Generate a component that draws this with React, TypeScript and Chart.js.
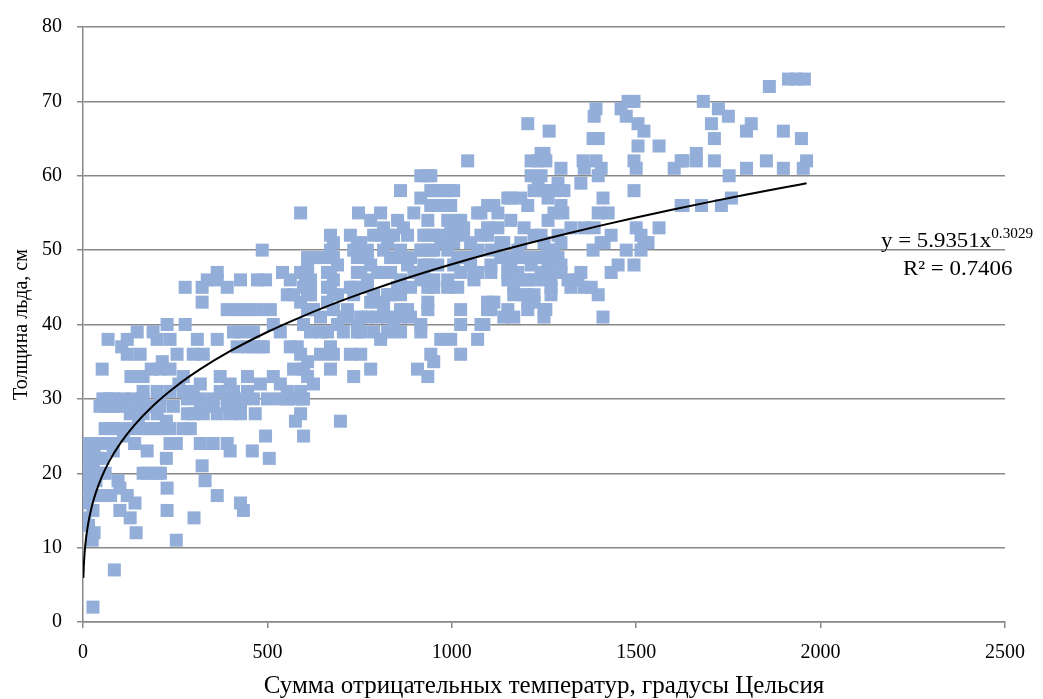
import { useEffect, useRef } from "react";
import { Chart, registerables } from "chart.js";

Chart.register(...registerables);

// Trend line (power fit) coefficients shown in the chart label
const trendA = 5.9351;
const trendB = 0.3029;
const trendR2 = 0.7406;
const trendXs = [1, 2, 3, 5, 8, 12, 18, 25, 35, 50, 70, 100, 140, 190, 250, 320, 400, 500, 600, 700, 800, 900, 1000, 1100, 1200, 1300, 1400, 1500, 1600, 1700, 1800, 1900, 1962];

const xTicks = [0, 500, 1000, 1500, 2000, 2500];
const yTicks = [0, 10, 20, 30, 40, 50, 60, 70, 80];

const xTitle = "Сумма отрицательных температур, градусы Цельсия";
const yTitle = "Толщина льда, см";

// Observations: [sum of negative temperatures, ice thickness]
const obsLeft: number[][] = [
  [5,23],[10,24],[24,24],[38,24],[14,22],[19,21],[6,20],[3,19],[18,18],[30,23],[35,22],[5,14],[8,16],[27,15],[30,12],[25,11],[27,2],[46,17],[6,18],[20,17],[10,22],[35,19],[15,13],[45,20],[12,20],[3,23],[28,21],[40,22],
  [54,22],[60,20],[82,23],[85,7],[79,26],[65,29],[70,30],[90,29],[95,19],[100,18],[75,17],[52,34],[68,38],[95,26],[54,30],[82,30],[46,29],[82,29],[54,24],[79,24],[60,26],
  [120,17],[141,16],[100,15],[128,14],[144,12],[128,26],[155,26],[174,26],[174,23],[175,20],[201,20],[210,20],[163,20],[109,30],[136,30],[163,30],[120,29],[155,29],[128,28],[163,28],[201,28],[163,31],[201,31],[120,38],[147,39],[120,36],[155,36],[163,33],[110,25],[140,24],[185,34],[190,39],[130,33],[105,37],[180,29],[195,26],[150,27],[226,22],[209,26],[236,26],[236,24],[253,24],
  [209,30],[209,29],[245,29],[236,31],[272,31],[299,31],[201,38],[236,38],[228,40],[277,40],[255,36],[299,36],[209,34],[236,34],[272,33],[228,18],[228,15],[253,11],[283,30],[283,28],[299,28],[272,26],[291,26],[277,45],[226,27],[260,32],[215,35],
];

const obsMid: number[][] = [
  [301,14],[331,19],[323,21],[364,17],[318,24],[353,24],[391,24],[399,23],[318,29],[353,29],[391,29],[326,28],[364,28],[399,28],[318,30],[353,30],[391,30],[372,31],[323,45],[337,46],[364,47],[364,46],[391,45],[323,43],[391,42],[310,38],[364,38],[326,36],[318,32],[372,33],[399,32],
  [408,29],[427,29],[427,28],[446,31],[408,31],[427,30],[462,30],[500,30],[459,23],[505,22],[495,25],[467,28],[427,16],[435,15],[427,46],[473,46],[495,46],[486,50],[462,39],[481,37],[489,37],[508,42],[408,39],[427,39],[418,37],[446,37],[462,37],[418,42],[445,42],[473,42],[446,33],[481,32],
  [516,40],[535,39],[562,37],[581,37],[541,47],[562,46],[554,44],[571,44],[590,36],[609,35],[516,33],[535,32],[571,34],[576,27],[598,25],[595,30],[554,30],[535,30],[571,30],[554,31],[590,31],[590,55],[590,47],[598,45],[590,43],[598,40],[598,34],[590,28],[609,48],[603,46],[609,45],[609,44],[625,49],[625,42],[625,32],[598,30],[609,33],
  [617,46],[617,44],[609,42],[617,39],[644,39],[671,52],[679,51],[679,49],[690,48],[671,47],[679,46],[671,45],[679,44],[663,43],[679,42],[690,40],[671,37],[644,36],[679,36],[671,34],[698,27],[644,49],[609,47],[663,47],[617,45],[663,45],[690,44],[617,42],[644,41],[663,39],[671,50],[609,49],
  [725,52],[744,51],[747,55],[788,52],[753,50],[771,49],[744,47],[771,46],[799,47],[725,45],[744,45],[771,45],[717,41],[744,40],[771,41],[780,43],[706,39],[744,39],[788,39],[725,36],[753,36],[734,33],[780,34],[780,54],[753,51],[734,50],[771,50],[744,49],[780,48],[753,47],[734,45],[734,44],[788,44],[717,42],[706,41],[753,41],[799,41],[753,39],
];

const obsCenter: number[][] = [
  [807,55],[834,52],[807,52],[826,51],[853,49],[880,52],[834,49],[861,50],[888,49],[834,47],[861,46],[897,47],[826,44],[861,44],[888,45],[815,43],[826,41],[842,40],[880,42],[888,41],[807,38],[861,39],[861,58],[897,55],[853,54],[815,53],[869,53],[842,52],[815,50],[880,48],[807,47],[853,45],[834,44],[815,42],[861,42],[861,41],[826,39],
  [916,60],[943,60],[916,57],[951,58],[989,58],[951,56],[970,56],[935,52],[970,51],[924,50],[951,50],[989,50],[924,47],[951,46],[989,46],[935,45],[989,45],[935,42],[970,38],[997,38],[943,36],[951,35],[907,34],[935,33],[989,54],[935,54],[924,52],[951,52],[916,50],[935,48],[951,45],[935,43],[916,40],[916,39],[935,60],[943,58],[978,58],[943,56],[997,56],[997,53],[970,52],[943,50],[962,48],[916,46],[924,48],
  [1043,62],[1016,54],[1070,55],[1097,56],[1005,52],[1032,52],[1079,52],[1097,53],[1016,49],[1043,49],[1070,50],[1024,47],[1060,46],[1016,45],[1024,42],[1024,40],[1079,40],[1097,42],[1087,40],[1070,38],[1024,36],[1005,58],[1079,55],[1024,54],[1032,53],[1005,51],[1051,51],[1032,49],[1005,48],[1051,48],[1070,47],[1060,47],[1097,43],[1097,52],
  [1125,55],[1152,57],[1187,57],[1106,47],[1133,51],[1179,50],[1133,49],[1160,48],[1187,49],[1152,47],[1179,47],[1114,43],[1168,45],[1141,41],[1168,41],[1160,57],[1114,56],[1125,53],[1160,54],[1196,53],[1141,51],[1187,51],[1106,50],[1160,49],[1196,49],[1106,48],[1152,48],[1152,46],[1187,46],[1106,42],[1152,42],[1168,44],[1196,44],
];

const obsRight: number[][] = [
  [1206,56],[1215,60],[1242,60],[1223,58],[1261,57],[1215,62],[1242,63],[1206,67],[1223,52],[1250,51],[1223,49],[1261,50],[1288,49],[1206,46],[1242,47],[1269,46],[1206,44],[1223,44],[1269,44],[1206,42],[1223,43],[1250,41],[1234,59],[1261,58],[1288,59],[1261,54],[1277,55],[1242,52],[1288,52],[1242,49],[1277,49],[1215,48],[1261,48],[1223,46],[1296,47],[1206,43],[1250,42],[1264,66],[1250,63],[1255,62],[1296,61],[1250,58],[1277,58],[1296,56],[1301,55],[1296,51],[1277,50],[1250,49],[1296,48],[1269,47],[1255,46],[1269,45],[1255,42],[1234,62],
  [1304,58],[1350,59],[1323,53],[1359,53],[1386,53],[1315,46],[1342,46],[1350,47],[1356,62],[1359,61],[1383,65],[1391,69],[1386,68],[1397,65],[1391,62],[1378,45],[1397,44],[1383,50],[1397,60],[1397,55],[1323,45],[1359,45],
  [1405,61],[1410,57],[1424,55],[1413,51],[1405,51],[1432,52],[1451,48],[1432,47],[1410,41],[1478,70],[1459,69],[1494,70],[1473,68],[1494,62],[1500,61],[1494,58],[1500,53],[1473,50],[1494,48],[1505,64],[1505,67],
  [1521,66],[1562,64],[1513,52],[1521,51],[1513,50],[1532,51],[1562,53],[1622,62],[1603,61],[1622,56],[1627,62],[1627,56],
  [1861,72],[1913,73],[1934,73],[1956,73],[1682,70],[1723,69],[1750,68],[1704,67],[1812,67],[1799,66],[1899,66],[1948,65],[1712,65],[1663,63],[1663,62],[1712,62],[1853,62],[1799,61],[1899,61],[1962,62],[1953,61],[1752,60],[1758,57],[1731,56],[1677,56],
];

const pointColor = "#93AED8";
const gridGray = "#888888";
const fontFamily = '"Liberation Serif", "Times New Roman", serif';

export default function App() {
  const canvasRef = useRef<HTMLCanvasElement | null>(null);

  useEffect(() => {
    document.body.style.margin = "0";
    const canvas = canvasRef.current;
    if (!canvas) return;

    const observations = [...obsLeft, ...obsMid, ...obsCenter, ...obsRight].map(([x, y]) => ({ x, y }));
    const trend = trendXs.map((x) => ({ x, y: trendA * Math.pow(x, trendB) }));

    const labelPlugin = {
      id: "trendLabel",
      afterDraw(chart: any) {
        const { ctx, chartArea } = chart;
        const yScale = chart.scales.y;
        const baseX = chartArea.right - 124;
        const baseY = yScale.getPixelForValue(50) - 3;
        ctx.save();
        ctx.fillStyle = "#000";
        ctx.textBaseline = "alphabetic";
        ctx.textAlign = "left";
        ctx.font = `21px ${fontFamily}`;
        const main = `y = ${trendA}x`;
        ctx.save();
        ctx.translate(baseX, baseY);
        ctx.scale(1.09, 1);
        ctx.fillText(main, 0, 0);
        const w = ctx.measureText(main).width;
        ctx.font = `14px ${fontFamily}`;
        ctx.fillText(String(trendB), w, -9);
        ctx.restore();
        ctx.font = `21px ${fontFamily}`;
        ctx.translate(baseX + 22, baseY + 28);
        ctx.scale(1.09, 1);
        ctx.fillText(`R² = ${trendR2}`, 0, 0);
        ctx.restore();
      },
    };

    const tickFont = { family: fontFamily, size: 20 };
    const xTitleFont = { family: fontFamily, size: 25 };

    const chart = new Chart(canvas, {
      type: "scatter",
      data: {
        datasets: [
          {
            type: "line",
            data: trend,
            borderColor: "#000000",
            borderWidth: 2,
            pointRadius: 0,
            fill: false,
            cubicInterpolationMode: "monotone",
          } as any,
          {
            data: observations,
            pointStyle: "rect",
            pointRadius: 9.2,
            backgroundColor: pointColor,
            borderColor: pointColor,
            borderWidth: 0,
          },
        ],
      },
      options: {
        responsive: false,
        animation: false,
        events: [],
        layout: { padding: { top: 22, right: 38, left: 0, bottom: 0 } },
        plugins: { legend: { display: false }, tooltip: { enabled: false } },
        scales: {
          x: {
            type: "linear",
            min: 0,
            max: 2500,
            afterBuildTicks: (s: any) => {
              s.ticks = xTicks.map((v) => ({ value: v }));
            },
            afterFit: (s: any) => {
              s.height = 77;
            },
            ticks: { font: tickFont, color: "#000", padding: 13, maxRotation: 0, callback: (v: any) => String(v) },
            grid: { drawOnChartArea: false, drawTicks: true, tickLength: 6, color: gridGray, lineWidth: 1.5 },
            border: { display: true, color: gridGray, width: 1.5 },
            title: { display: true, text: xTitle, font: xTitleFont, color: "#000", padding: { top: 0, bottom: -2 } },
          },
          y: {
            type: "linear",
            min: 0,
            max: 80,
            afterBuildTicks: (s: any) => {
              s.ticks = yTicks.map((v) => ({ value: v }));
            },
            afterFit: (s: any) => {
              s.width = 83;
            },
            ticks: { font: tickFont, color: "#000", padding: 15, callback: (v: any) => String(v) },
            grid: { drawOnChartArea: true, drawTicks: true, tickLength: 6, color: gridGray, lineWidth: 1.5 },
            border: { display: true, color: gridGray, width: 1.5 },
            title: { display: true, text: yTitle, font: tickFont, color: "#000", padding: { top: 10, bottom: 0 } },
          },
        },
      },
      plugins: [labelPlugin],
    });

    return () => chart.destroy();
  }, []);

  return (
    <div style={{ width: 1043, height: 699, position: "relative" }}>
      <canvas ref={canvasRef} width={1043} height={699} style={{ display: "block" }} />
    </div>
  );
}
